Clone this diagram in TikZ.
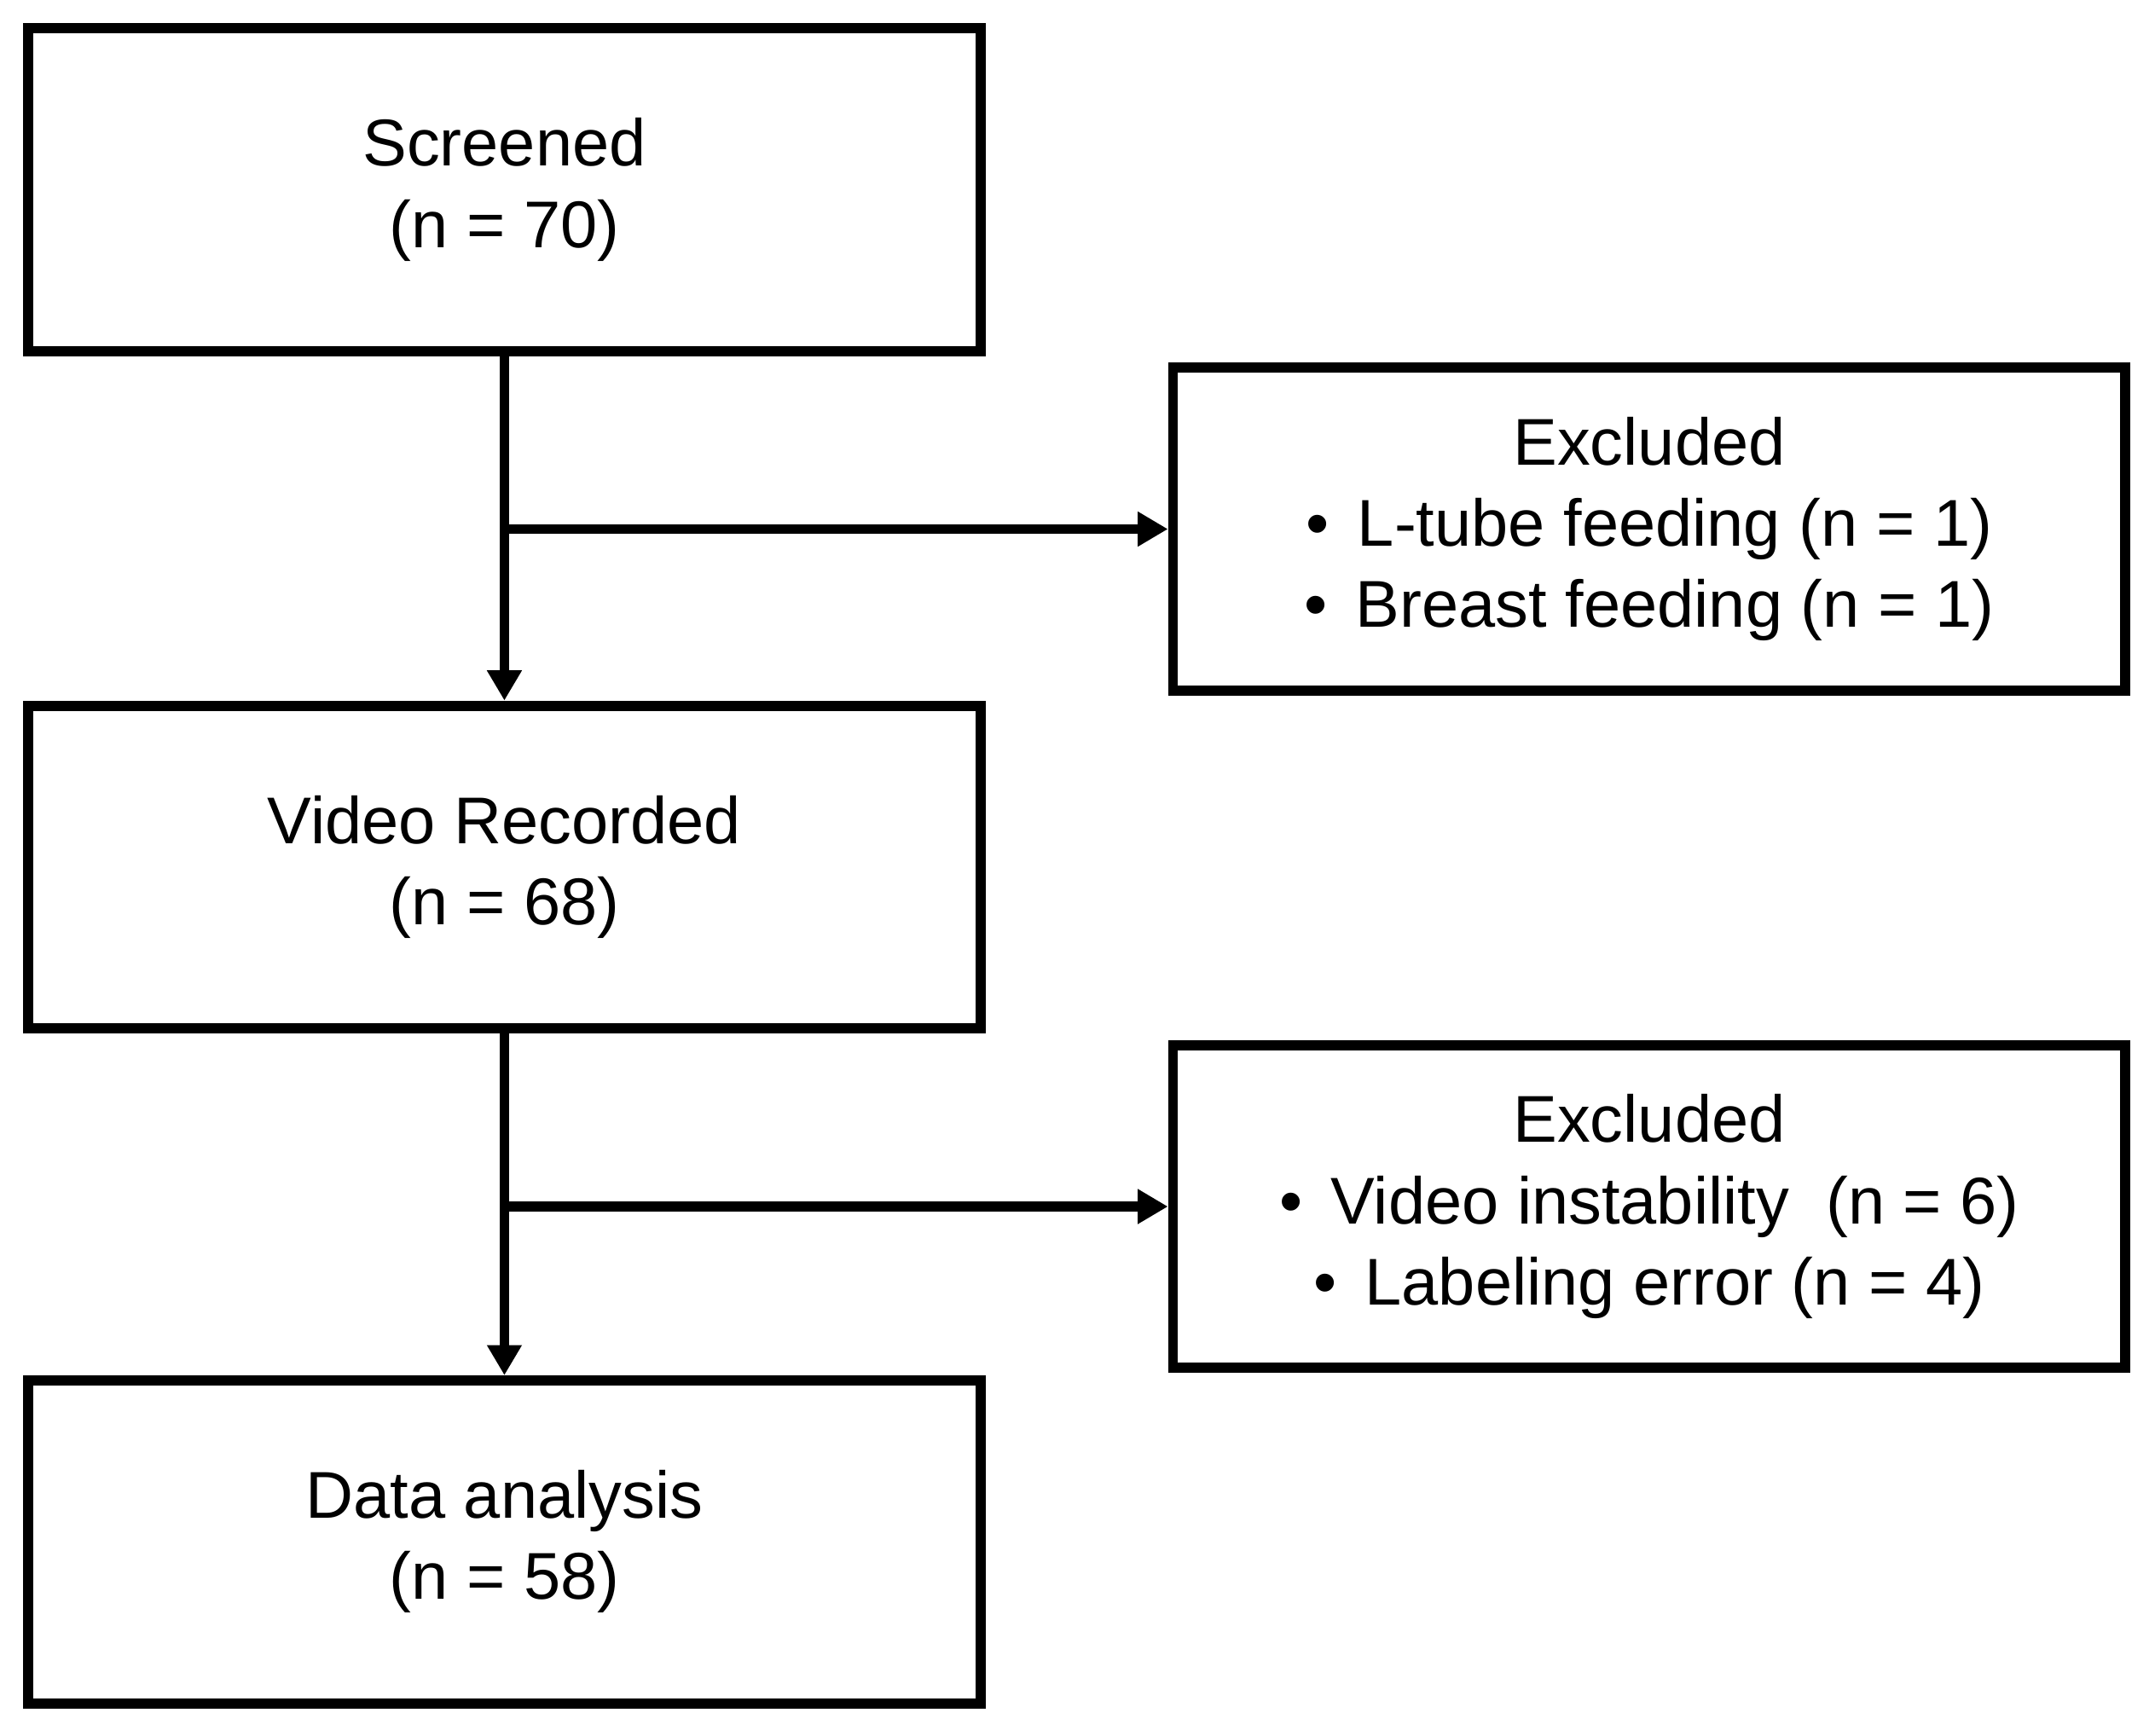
\documentclass[tikz,border=0pt]{standalone}
\usepackage{fontspec}
\setmainfont{Liberation Sans}
\usetikzlibrary{arrows.meta, positioning, calc}

\begin{document}
\begin{tikzpicture}[
    font=\fontsize{13.7}{16.8}\selectfont,
    stage/.style={rectangle, draw=black, line width=2.1pt, fill=white, minimum width=6.93cm, minimum height=2.35cm, align=center, inner sep=2pt},
    flow/.style={-{Triangle[length=2.2mm, width=2.4mm]}, line width=2.1pt}
]
    \useasboundingbox (0,0) rectangle (15.68,-12.63);

    % Main stages
    \node[stage] (screen) at (3.67,-1.38) {Screened\\(n = 70)};
    \node[stage] (video) at (3.67,-6.31) {Video Recorded\\(n = 68)};
    \node[stage] (data) at (3.67,-11.22) {Data analysis\\(n = 58)};

    % Exclusions
    \node[stage] (excl1) at (12.00,-3.85) {Excluded\\•\hspace{0.15em} L-tube feeding (n = 1)\\•\hspace{0.15em} Breast feeding (n = 1)};
    \node[stage] (excl2) at (12.00,-8.78) {Excluded\\•\hspace{0.15em} Video instability\ \ (n = 6)\\•\hspace{0.15em} Labeling error (n = 4)};

    % Flow
    \draw[flow] (screen) -- (video);
    \draw[flow] (video) -- (data);

    \coordinate (branch1) at (screen.south |- excl1.west);
    \coordinate (branch2) at (video.south |- excl2.west);
    \draw[flow] (branch1) -- (excl1.west);
    \draw[flow] (branch2) -- (excl2.west);
\end{tikzpicture}
\end{document}
